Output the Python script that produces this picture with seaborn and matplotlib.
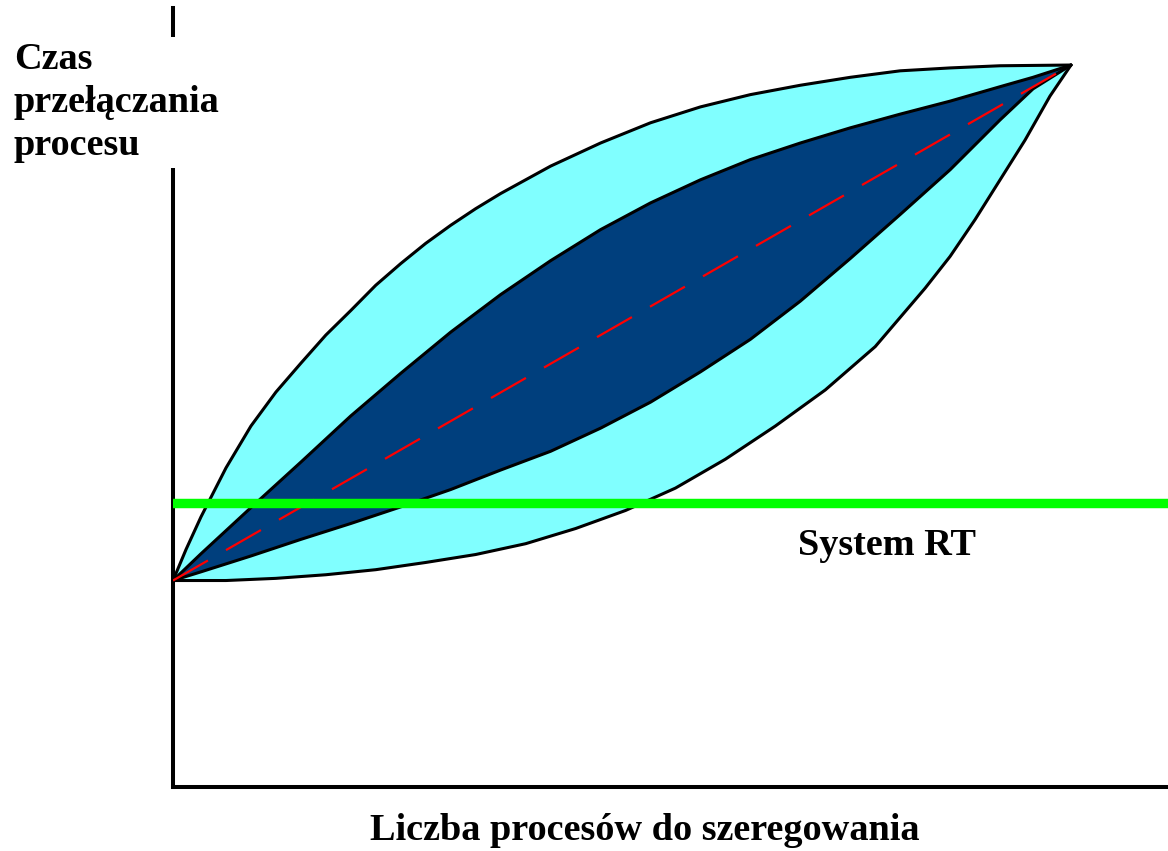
import numpy as np
import matplotlib
matplotlib.use("Agg")
import matplotlib.pyplot as plt
import seaborn as sns

# Curves (x: processes, 0..100 at the tip; y: switch time)
outer_upper_x = [0, 1.45, 3.11, 5.90, 8.68, 11.46, 14.24, 17.02, 19.80, 22.58, 25.36, 28.14, 30.92,
                 33.70, 36.48, 42.05, 47.61, 53.17, 58.73, 64.29, 69.86, 75.42, 80.98, 86.54, 92.10, 100]
outer_upper_y = [28.6, 32.9, 37.4, 44.2, 50.0, 54.7, 58.7, 62.6, 66.0, 69.5, 72.5, 75.3, 77.8,
                 80.1, 82.2, 86.0, 89.2, 92.0, 94.2, 95.9, 97.2, 98.3, 99.2, 99.6, 99.9, 100]

inner_upper_x = [0, 3.11, 8.68, 14.24, 19.80, 25.36, 30.92, 36.48, 42.05, 47.61, 53.17, 58.73,
                 64.29, 69.86, 75.42, 80.98, 86.54, 92.10, 95.77, 100]
inner_upper_y = [28.6, 32.3, 38.7, 45.0, 51.4, 57.3, 63.0, 68.2, 72.9, 77.2, 80.9, 84.1,
                 86.9, 89.2, 91.3, 93.2, 95.0, 97.0, 98.3, 100]

inner_lower_x = [0, 3.11, 8.68, 14.24, 19.80, 25.36, 30.92, 36.48, 42.05, 47.61, 53.17, 58.73,
                 64.29, 69.86, 75.42, 80.98, 86.54, 92.10, 95.77, 100]
inner_lower_y = [28.6, 29.8, 32.0, 34.3, 36.5, 38.8, 41.2, 43.9, 46.5, 49.7, 53.3, 57.5,
                 62.0, 67.3, 73.2, 79.3, 85.5, 92.4, 96.7, 100]

outer_lower_x = [0, 5.90, 11.46, 17.02, 22.58, 28.14, 33.70, 39.27, 44.83, 50.39, 55.95, 61.51,
                 67.08, 72.64, 78.20, 83.76, 86.54, 89.32, 92.10, 94.88, 97.66, 100]
outer_lower_y = [28.6, 28.6, 28.9, 29.4, 30.1, 31.1, 32.2, 33.7, 35.8, 38.3, 41.4, 45.4,
                 50.0, 55.0, 61.0, 69.1, 73.5, 78.6, 84.1, 89.6, 95.7, 100]

mean_x = [0, 100]
mean_y = [28.6, 100]

rt_limit = 39.3

y_label = "Czas\nprzełączania\nprocesu"
x_label = "Liczba procesów do szeregowania"
rt_label = "System RT"

sns.set_style("white")
plt.rcParams['font.family'] = ['Liberation Serif', 'DejaVu Serif']
plt.rcParams['text.color'] = 'black'
plt.rcParams['lines.scale_dashes'] = False

W, H = 1168, 851
fig = plt.figure(figsize=(W / 100, H / 100), dpi=100)
ax = fig.add_axes([173 / W, (H - 787) / H, 1 - 173 / W, (787 - 8) / H])
ax.set_xlim(0, 110.8)
ax.set_ylim(0, 107.9)

# filled lens shapes
ax.fill(np.r_[outer_upper_x, outer_lower_x[::-1]], np.r_[outer_upper_y, outer_lower_y[::-1]],
        color='#80FFFF', lw=0, zorder=1)
ax.fill(np.r_[inner_upper_x, inner_lower_x[::-1]], np.r_[inner_upper_y, inner_lower_y[::-1]],
        color='#003F7D', lw=0, zorder=2)

for cx, cy in [(outer_upper_x, outer_upper_y), (outer_lower_x, outer_lower_y),
               (inner_upper_x, inner_upper_y), (inner_lower_x, inner_lower_y)]:
    sns.lineplot(x=cx, y=cy, sort=False, color='black', lw=2.2, ax=ax, zorder=3)

sns.lineplot(x=mean_x, y=mean_y, sort=False, color='red', lw=1.6, ax=ax, zorder=4)
ax.lines[-1].set_dashes((29, 15))

ax.axhline(rt_limit, color='#00FF00', lw=6.8, zorder=5)

ax.text(79.5, 33.4, rt_label, fontsize=27.5, fontweight='bold', ha='center', va='center')

for side in ['top', 'right']:
    ax.spines[side].set_visible(False)
for side in ['left', 'bottom']:
    ax.spines[side].set_linewidth(2.9)
    ax.spines[side].set_color('black')
ax.set_xticks([])
ax.set_yticks([])

fig.text(645 / W, 1 - 830 / H, x_label, fontsize=27.5, fontweight='bold', ha='center', va='center')
fig.text(14 / W, 1 - 42 / H, y_label, fontsize=27.5, fontweight='bold', ha='left', va='top',
         linespacing=1.3, bbox=dict(facecolor='white', edgecolor='none', boxstyle='square,pad=0.12'))

fig.savefig('out.png', dpi=100)
